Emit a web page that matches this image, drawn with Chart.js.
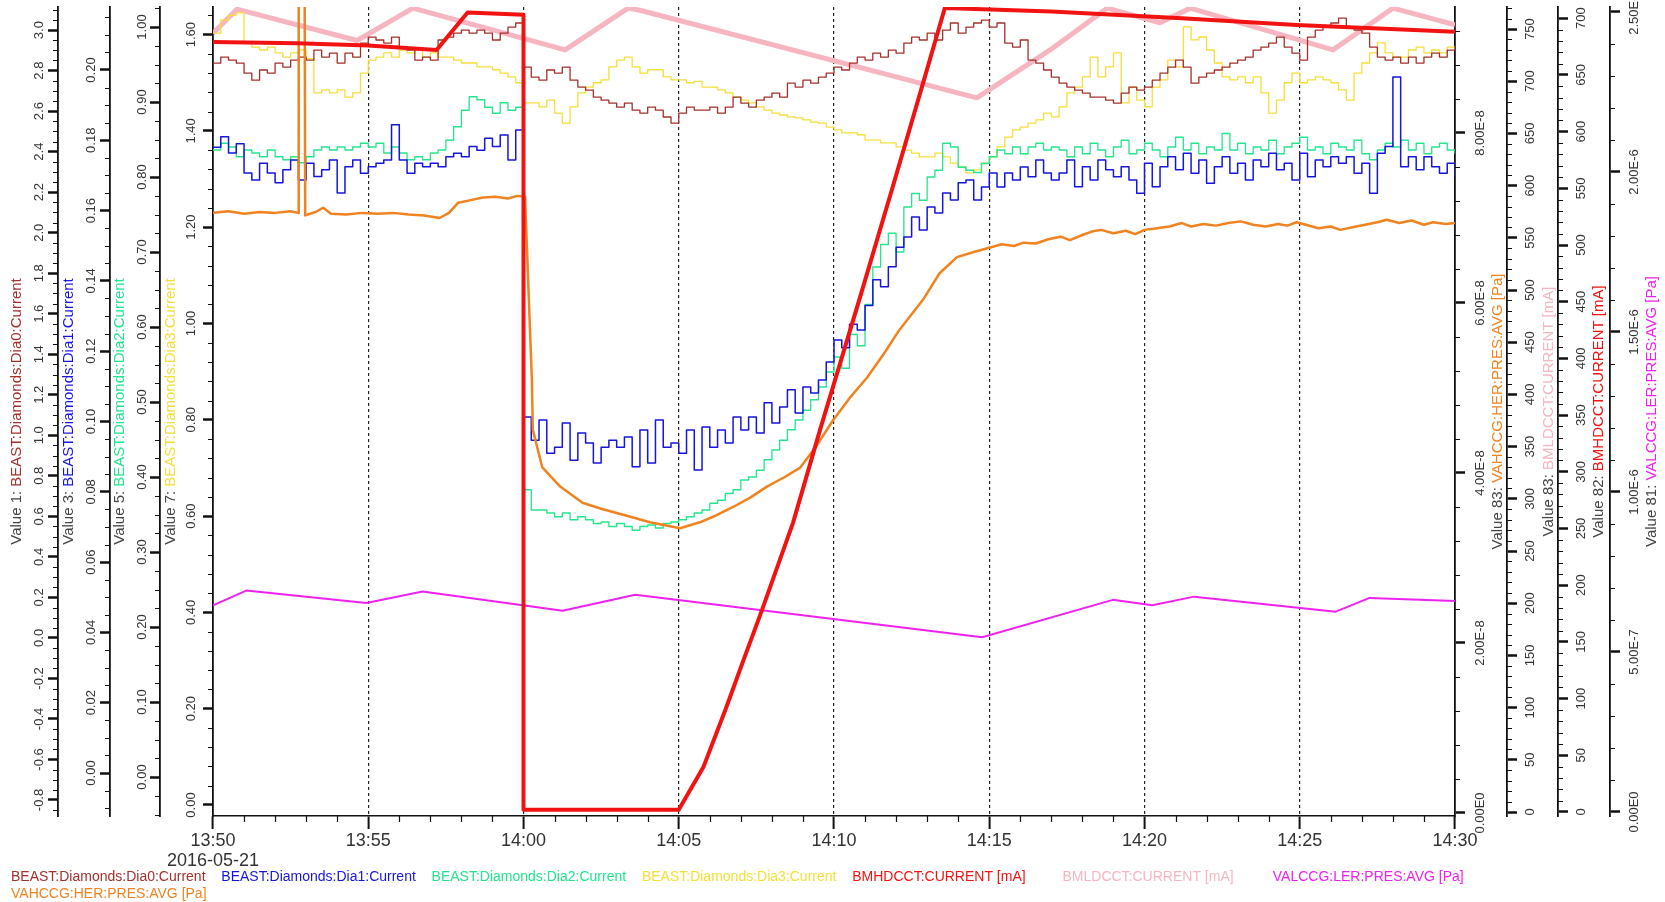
<!DOCTYPE html>
<html>
<head>
<meta charset="utf-8">
<script src="https://cdn.jsdelivr.net/npm/chart.js@4.4.1/dist/chart.umd.min.js"></script>
<style>
  html, body { margin: 0; padding: 0; background: #fff; }
  canvas { display: block; }
</style>
</head>
<body>
<canvas id="chart" width="1665" height="902"></canvas>
<script>
// x values are minutes after 13:50 (2016-05-21)
const timeLabels = ['13:50', '13:55', '14:00', '14:05', '14:10', '14:15', '14:20', '14:25', '14:30'];
const dateLabel = '2016-05-21';
const STEP = 0.25; // diamond currents: one reading every 15 s

// BEAST:Diamonds:Dia0:Current
const dia0 = [
  2.837, 2.867, 2.852, 2.837,  2.788, 2.753, 2.803, 2.788,  2.837, 2.817, 2.852, 2.867,
  2.852, 2.901, 2.867, 2.886,  2.837, 2.886, 2.867, 2.936,  2.965, 2.951, 2.936, 2.965,
  2.916, 2.901, 2.852, 2.867,  2.852, 2.951, 2.965, 2.985,  3.000, 2.985, 3.000, 2.985,
  2.951, 2.985, 3.015, 3.035,
  2.817, 2.768, 2.753, 2.803,  2.788, 2.817, 2.753, 2.719,  2.704, 2.669, 2.654, 2.640,
  2.620, 2.640, 2.605, 2.590,  2.620, 2.605, 2.571, 2.541,  2.590, 2.620, 2.605, 2.605,
  2.620, 2.590, 2.620, 2.669,  2.640, 2.620, 2.654, 2.669,  2.689, 2.669, 2.738, 2.719,
  2.753, 2.738, 2.768, 2.788,  2.817, 2.803, 2.837, 2.867,  2.852, 2.886, 2.867, 2.901,
  2.886, 2.936, 2.965, 2.951,  2.985, 2.951, 3.000, 3.035,  2.985, 3.015, 3.035, 3.049,
  3.015, 3.035, 2.936, 2.916,  2.951, 2.852, 2.837, 2.803,  2.768, 2.738, 2.719, 2.704,
  2.689, 2.669, 2.669, 2.654,  2.640, 2.689, 2.719, 2.704,  2.719, 2.753, 2.788, 2.817,
  2.852, 2.817, 2.738, 2.768,  2.788, 2.803, 2.817, 2.837,  2.852, 2.867, 2.901, 2.916,
  2.936, 2.965, 2.916, 2.886,  2.852, 2.965, 3.000, 3.015,  3.035, 3.059, 3.015, 3.000,
  2.985, 2.916, 2.867, 2.852,  2.867, 2.837, 2.867, 2.837,  2.867, 2.886, 2.867, 2.901,
  2.916
];

// BEAST:Diamonds:Dia1:Current
const dia1 = [
  0.1780, 0.1810, 0.1764, 0.1790,  0.1707, 0.1687, 0.1735, 0.1707,  0.1679, 0.1716, 0.1744, 0.1687,
  0.1735, 0.1697, 0.1716, 0.1744,  0.1650, 0.1725, 0.1744, 0.1706,  0.1725, 0.1735, 0.1744, 0.1844,
  0.1744, 0.1706, 0.1735, 0.1725,  0.1735, 0.1725, 0.1753, 0.1763,  0.1753, 0.1782, 0.1772, 0.1806,
  0.1782, 0.1815, 0.1744, 0.1829,
  0.1013, 0.0947, 0.1004, 0.0910,  0.0927, 0.0996, 0.0890, 0.0967,  0.0939, 0.0882, 0.0927, 0.0947,
  0.0927, 0.0956, 0.0871, 0.0976,  0.0882, 0.1004, 0.0927, 0.0939,  0.0910, 0.0976, 0.0862, 0.0984,
  0.0927, 0.0976, 0.0939, 0.1013,  0.0976, 0.1013, 0.0967, 0.1053,  0.0996, 0.1041, 0.1090, 0.1024,
  0.1098, 0.1081, 0.1118, 0.1169,  0.1232, 0.1210, 0.1277, 0.1260,  0.1330, 0.1403, 0.1383, 0.1440,
  0.1496, 0.1525, 0.1582, 0.1545,  0.1610, 0.1593, 0.1650, 0.1630,  0.1679, 0.1687, 0.1630, 0.1667,
  0.1707, 0.1667, 0.1707, 0.1687,  0.1724, 0.1696, 0.1744, 0.1707,  0.1687, 0.1707, 0.1744, 0.1668,
  0.1725, 0.1687, 0.1744, 0.1716,  0.1696, 0.1725, 0.1687, 0.1649,  0.1735, 0.1668, 0.1725, 0.1753,
  0.1716, 0.1763, 0.1706, 0.1744,  0.1678, 0.1725, 0.1753, 0.1706,  0.1735, 0.1687, 0.1744, 0.1725,
  0.1763, 0.1716, 0.1735, 0.1687,  0.1763, 0.1696, 0.1744, 0.1725,  0.1753, 0.1735, 0.1753, 0.1706,
  0.1735, 0.1649, 0.1763, 0.1782,  0.1980, 0.1725, 0.1753, 0.1716,  0.1753, 0.1725, 0.1706, 0.1735,
  0.1696
];

// BEAST:Diamonds:Dia2:Current
const dia2 = [
  0.836, 0.845, 0.840, 0.827,  0.836, 0.832, 0.827, 0.836,  0.827, 0.823, 0.827, 0.819,
  0.827, 0.836, 0.840, 0.836,  0.840, 0.836, 0.840, 0.845,  0.840, 0.845, 0.832, 0.840,
  0.832, 0.823, 0.827, 0.823,  0.832, 0.836, 0.849, 0.867,  0.889, 0.907, 0.903, 0.893,
  0.885, 0.899, 0.889, 0.893,
  0.383, 0.356, 0.356, 0.352,  0.347, 0.352, 0.343, 0.347,  0.343, 0.338, 0.340, 0.334,
  0.338, 0.334, 0.329, 0.334,  0.336, 0.332, 0.338, 0.340,  0.343, 0.347, 0.352, 0.356,
  0.365, 0.369, 0.378, 0.383,  0.396, 0.400, 0.409, 0.423,  0.436, 0.449, 0.463, 0.476,
  0.489, 0.503, 0.520, 0.540,  0.560, 0.545, 0.590, 0.575,  0.630, 0.680, 0.710, 0.725,
  0.700, 0.760, 0.778, 0.769,  0.800, 0.809, 0.845, 0.840,  0.813, 0.809, 0.806, 0.818,
  0.827, 0.836, 0.831, 0.840,  0.831, 0.840, 0.845, 0.836,  0.840, 0.836, 0.827, 0.840,
  0.831, 0.845, 0.836, 0.827,  0.840, 0.849, 0.831, 0.836,  0.845, 0.836, 0.827, 0.840,
  0.853, 0.836, 0.845, 0.831,  0.840, 0.836, 0.858, 0.836,  0.845, 0.831, 0.840, 0.836,
  0.849, 0.831, 0.840, 0.845,  0.853, 0.836, 0.840, 0.831,  0.845, 0.840, 0.836, 0.849,
  0.831, 0.823, 0.836, 0.845,  0.840, 0.849, 0.836, 0.845,  0.831, 0.840, 0.845, 0.836,
  0.831
];

// BEAST:Diamonds:Dia3:Current
const dia3 = [
  1.603, 1.630, 1.640, 1.645,  1.583, 1.574, 1.568, 1.574,  1.562, 1.553, 1.562, 1.568,
  1.550, 1.479, 1.485, 1.479,  1.485, 1.470, 1.479, 1.520,  1.547, 1.553, 1.562, 1.553,
  1.568, 1.562, 1.568, 1.553,  1.562, 1.553, 1.553, 1.547,  1.541, 1.541, 1.533, 1.533,
  1.527, 1.520, 1.512, 1.500,
  1.458, 1.458, 1.450, 1.464,  1.437, 1.416, 1.450, 1.479,  1.491, 1.500, 1.506, 1.533,
  1.547, 1.553, 1.533, 1.520,  1.527, 1.527, 1.512, 1.506,  1.506, 1.500, 1.503, 1.491,
  1.491, 1.485, 1.479, 1.470,  1.464, 1.458, 1.450, 1.443,  1.437, 1.433, 1.429, 1.427,
  1.423, 1.418, 1.416, 1.408,  1.402, 1.396, 1.396, 1.392,  1.381, 1.381, 1.375, 1.375,
  1.367, 1.360, 1.354, 1.346,  1.346, 1.354, 1.346, 1.333,  1.325, 1.313, 1.319, 1.333,
  1.346, 1.367, 1.387, 1.402,  1.408, 1.416, 1.423, 1.437,  1.429, 1.450, 1.479, 1.491,
  1.512, 1.553, 1.512, 1.533,  1.562, 1.458, 1.491, 1.464,  1.450, 1.491, 1.506, 1.547,
  1.533, 1.616, 1.589, 1.595,  1.568, 1.541, 1.512, 1.506,  1.512, 1.500, 1.512, 1.479,
  1.437, 1.464, 1.500, 1.520,  1.500, 1.506, 1.512, 1.506,  1.500, 1.485, 1.464, 1.520,
  1.541, 1.562, 1.583, 1.562,  1.553, 1.553, 1.568, 1.574,  1.562, 1.568, 1.562, 1.574,
  1.568
];

// BMHDCCT:CURRENT [mA]  [minute, mA]
const herCurrent = [
  [0, 679], [2.7, 678], [5, 676], [7.2, 672], [8.2, 705], [10, 703], [10, 2], [15, 2],
  [15.8, 40], [16.5, 90], [17.1, 135], [17.68, 178], [18.68, 255], [19.55, 337], [20.84, 454],
  [21.9, 552], [22.87, 643], [23.57, 709], [27, 706], [31.2, 700], [34.9, 694], [40, 688]
];

// BMLDCCT:CURRENT [mA]  [minute, mA]
const lerCurrent = [
  [0, 746], [0.77, 769], [4.64, 739], [6.44, 770], [11.34, 730], [13.37, 770], [13.75, 768],
  [24.6, 684], [26.96, 730], [28.8, 770], [30.5, 756], [31.47, 770], [36.07, 730],
  [38.0, 770], [40, 754]
];

// VAHCCG:HER:PRES:AVG [Pa]  [minute, Pa]
const herPres = [
  [0, 7.06e-8], [0.5, 7.08e-8], [1, 7.05e-8], [1.5, 7.07e-8], [2, 7.06e-8], [2.5, 7.08e-8],
  [2.74, 7.06e-8], [2.76, 9.9e-8], [2.95, 9.9e-8], [2.97, 7.03e-8], [3.3, 7.07e-8],
  [3.55, 7.12e-8], [3.8, 7.05e-8], [4.3, 7.04e-8], [4.8, 7.06e-8], [5.3, 7.05e-8],
  [5.8, 7.06e-8], [6.3, 7.04e-8], [6.8, 7.03e-8], [7.3, 7.0e-8], [7.6, 7.06e-8],
  [7.9, 7.18e-8], [8.3, 7.21e-8], [8.7, 7.24e-8], [9.1, 7.25e-8], [9.5, 7.23e-8],
  [9.8, 7.26e-8], [10.05, 7.25e-8], [10.27, 5.09e-8], [10.3, 4.51e-8], [10.6, 4.07e-8],
  [11.18, 3.84e-8], [11.9, 3.65e-8], [12.5, 3.58e-8], [13.0, 3.53e-8], [13.5, 3.48e-8],
  [14.07, 3.42e-8], [15.04, 3.35e-8], [15.68, 3.42e-8], [16.2, 3.5e-8], [16.75, 3.6e-8],
  [17.3, 3.71e-8], [17.84, 3.84e-8], [18.4, 3.95e-8], [18.9, 4.06e-8], [19.4, 4.3e-8],
  [19.97, 4.62e-8], [20.5, 4.88e-8], [21.06, 5.12e-8], [21.6, 5.4e-8], [22.1, 5.68e-8],
  [22.87, 6.04e-8], [23.4, 6.35e-8], [23.96, 6.54e-8], [24.5, 6.6e-8],
  [25.0, 6.65e-8], [25.4, 6.69e-8], [25.8, 6.67e-8], [26.1, 6.71e-8], [26.5, 6.70e-8],
  [26.9, 6.75e-8], [27.3, 6.78e-8], [27.6, 6.74e-8], [28.0, 6.80e-8], [28.3, 6.84e-8],
  [28.6, 6.86e-8], [29.0, 6.82e-8], [29.4, 6.85e-8], [29.7, 6.81e-8], [30.0, 6.86e-8],
  [30.4, 6.88e-8], [30.8, 6.90e-8], [31.2, 6.94e-8], [31.5, 6.90e-8], [31.9, 6.93e-8],
  [32.3, 6.91e-8], [32.7, 6.94e-8], [33.1, 6.96e-8], [33.5, 6.92e-8], [33.9, 6.90e-8],
  [34.3, 6.93e-8], [34.6, 6.91e-8], [34.9, 6.95e-8], [35.2, 6.92e-8], [35.6, 6.88e-8],
  [36.0, 6.90e-8], [36.3, 6.86e-8], [36.7, 6.89e-8], [37.1, 6.92e-8], [37.5, 6.95e-8],
  [37.8, 6.98e-8], [38.2, 6.94e-8], [38.6, 6.97e-8], [39.0, 6.92e-8], [39.3, 6.95e-8],
  [39.7, 6.93e-8], [40, 6.94e-8]
];

// VALCCG:LER:PRES:AVG [Pa]  [minute, Pa]
const lerPres = [
  [0, 6.46e-7], [1.07, 6.92e-7], [4.94, 6.53e-7], [6.75, 6.89e-7], [11.26, 6.29e-7],
  [13.6, 6.79e-7], [24.77, 5.46e-7], [28.98, 6.63e-7], [30.25, 6.46e-7], [31.6, 6.73e-7],
  [36.16, 6.26e-7], [37.25, 6.69e-7], [40, 6.59e-7]
];

const COLORS = {
  dia0: '#a4302c', dia1: '#1515dd', dia2: '#23e58c', dia3: '#f3e03a',
  herCur: '#f11212', lerCur: '#f6b5c0', lerPres: '#ee22ee', herPres: '#f0831f'
};
const FONT = '"Liberation Sans", Arial, Helvetica, sans-serif';
Chart.defaults.font.family = FONT;

const sci = v => (Math.abs(v) < 1e-15 ? '0.00E0' : v.toExponential(2).toUpperCase().replace('+', ''));

// axis layout / styling (left axes listed from outside in, right axes from inside out)
const axisDefs = {
  yDia0:    { side: 'left',  min: -0.879, max: 3.114, major: 0.2, minor: 0.05, fmt: v => v.toFixed(1), width: 58, weight: 4, labelGap: 19, titleGap: 41, title: 'Value 1: ', name: 'BEAST:Diamonds:Dia0:Current', color: COLORS.dia0 },
  yDia1:    { side: 'left',  min: -0.01223, max: 0.21792, major: 0.02, minor: 0.005, fmt: v => v.toFixed(2), width: 52, weight: 3, labelGap: 19, titleGap: 41, title: 'Value 3: ', name: 'BEAST:Diamonds:Dia1:Current', color: COLORS.dia1 },
  yDia2:    { side: 'left',  min: -0.052, max: 1.0267, major: 0.1, minor: 0.025, fmt: v => v.toFixed(2), width: 50, weight: 2, labelGap: 18, titleGap: 40, title: 'Value 5: ', name: 'BEAST:Diamonds:Dia2:Current', color: COLORS.dia2 },
  yDia3:    { side: 'left',  min: -0.02285, max: 1.6573, major: 0.2, minor: 0.04, fmt: v => v.toFixed(2), width: 53, weight: 1, labelGap: 22, titleGap: 42, title: 'Value 7: ', name: 'BEAST:Diamonds:Dia3:Current', color: COLORS.dia3 },
  yHerPres: { side: 'right', min: -3.53e-10, max: 9.482e-8, major: 2e-8, minor: 4e-9, fmt: sci, width: 52, weight: 1, labelGap: 25, titleGap: 43, title: 'Value 83: ', name: 'VAHCCG:HER:PRES:AVG [Pa]', color: COLORS.herPres },
  yLerCur:  { side: 'right', min: -3.83, max: 771.1, major: 50, minor: 10, fmt: v => String(Math.round(v)), width: 51, weight: 2, labelGap: 23, titleGap: 42, title: 'Value 83: ', name: 'BMLDCCT:CURRENT [mA]', color: COLORS.lerCur },
  yHerCur:  { side: 'right', min: -3.53, max: 709.9, major: 50, minor: 10, fmt: v => String(Math.round(v)), width: 52, weight: 3, labelGap: 23, titleGap: 41, title: 'Value 82: ', name: 'BMHDCCT:CURRENT [mA]', color: COLORS.herCur },
  yLerPres: { side: 'right', min: -1.25e-8, max: 2.5156e-6, major: 5e-7, minor: 1e-7, fmt: sci, width: 55, weight: 4, labelGap: 24, titleGap: 42, title: 'Value 81: ', name: 'VALCCG:LER:PRES:AVG [Pa]', color: COLORS.lerPres }
};

const legendRows = [
  [['BEAST:Diamonds:Dia0:Current', COLORS.dia0], ['BEAST:Diamonds:Dia1:Current', COLORS.dia1],
   ['BEAST:Diamonds:Dia2:Current', COLORS.dia2], ['BEAST:Diamonds:Dia3:Current', COLORS.dia3],
   ['BMHDCCT:CURRENT [mA]', COLORS.herCur], ['BMLDCCT:CURRENT [mA]', COLORS.lerCur],
   ['VALCCG:LER:PRES:AVG [Pa]', COLORS.lerPres]],
  [['VAHCCG:HER:PRES:AVG [Pa]', COLORS.herPres]]
];

function yScale(d) {
  return {
    type: 'linear', position: d.side, min: d.min, max: d.max, weight: d.weight,
    afterFit: s => { s.width = d.width; },
    ticks: { display: false, stepSize: d.major, includeBounds: false },
    grid: { drawOnChartArea: false, drawTicks: true, tickLength: 10, tickWidth: 2.5, tickColor: '#111' },
    border: { display: true, color: '#111', width: 1.8 }
  };
}

const scales = {
  x: {
    type: 'linear', position: 'bottom', min: 0, max: 40,
    afterFit: s => { s.height = 86; },
    ticks: {
      stepSize: 5, autoSkip: false, maxRotation: 0, minRotation: 0, padding: 2, color: '#333',
      font: { size: 18, lineHeight: 1.1 },
      callback: v => (v === 0 ? [timeLabels[0], dateLabel] : timeLabels[Math.round(v / 5)])
    },
    grid: {
      drawOnChartArea: true, lineWidth: 1.2,
      color: c => (c.tick && (c.tick.value === 0 || c.tick.value === 40) ? 'rgba(0,0,0,0)' : '#222'),
      tickLength: 13, tickWidth: 2, tickColor: '#111', tickBorderDash: []
    },
    border: { display: true, color: '#111', width: 1.5, dash: [3, 3] }
  }
};
for (const id of Object.keys(axisDefs)) scales[id] = yScale(axisDefs[id]);

const stepPts = vals => vals.map((v, i) => ({ x: i * STEP, y: v }));
const pairPts = arr => arr.map(([x, y]) => ({ x, y }));

const line = (label, data, axis, color, width, stepped) => ({
  label, data, yAxisID: axis, borderColor: color, backgroundColor: color,
  borderWidth: width, stepped: !!stepped, pointRadius: 0, pointHitRadius: 0,
  fill: false, tension: 0, borderJoinStyle: 'round'
});

// first dataset is drawn on top
const datasets = [
  line('BMHDCCT:CURRENT [mA]', pairPts(herCurrent), 'yHerCur', COLORS.herCur, 4),
  line('VAHCCG:HER:PRES:AVG [Pa]', pairPts(herPres), 'yHerPres', COLORS.herPres, 2.5),
  line('VALCCG:LER:PRES:AVG [Pa]', pairPts(lerPres), 'yLerPres', COLORS.lerPres, 2),
  line('BEAST:Diamonds:Dia1:Current', stepPts(dia1), 'yDia1', COLORS.dia1, 1.5, true),
  line('BEAST:Diamonds:Dia2:Current', stepPts(dia2), 'yDia2', COLORS.dia2, 1.3, true),
  line('BEAST:Diamonds:Dia0:Current', stepPts(dia0), 'yDia0', COLORS.dia0, 1.3, true),
  line('BEAST:Diamonds:Dia3:Current', stepPts(dia3), 'yDia3', COLORS.dia3, 1.3, true),
  line('BMLDCCT:CURRENT [mA]', pairPts(lerCurrent), 'yLerCur', COLORS.lerCur, 5)
];

// minor ticks, rotated tick labels, two-colour axis titles and the text legend
const axisDecor = {
  id: 'axisDecor',
  afterDraw(chart) {
    const ctx = chart.ctx;
    const area = chart.chartArea;
    const midY = (area.top + area.bottom) / 2;
    ctx.save();

    // x minor ticks every minute
    const xs = chart.scales.x;
    ctx.strokeStyle = '#111';
    ctx.lineWidth = 1.2;
    ctx.beginPath();
    for (let m = 1; m < 40; m++) {
      if (m % 5 === 0) continue;
      const px = Math.round(xs.getPixelForValue(m)) + 0.5;
      ctx.moveTo(px, area.bottom);
      ctx.lineTo(px, area.bottom + 6);
    }
    ctx.stroke();

    for (const id of Object.keys(axisDefs)) {
      const d = axisDefs[id];
      const s = chart.scales[id];
      const left = d.side === 'left';
      const spine = left ? s.right : s.left;
      const dir = left ? -1 : 1;

      ctx.strokeStyle = '#111';
      ctx.lineWidth = 1.2;
      ctx.beginPath();
      const ratio = Math.round(d.major / d.minor);
      for (let k = Math.ceil(d.min / d.minor); k * d.minor <= d.max; k++) {
        if (k % ratio === 0) continue;
        const py = Math.round(s.getPixelForValue(k * d.minor)) + 0.5;
        ctx.moveTo(spine, py);
        ctx.lineTo(spine + dir * 5, py);
      }
      ctx.stroke();

      ctx.font = '13px ' + FONT;
      ctx.fillStyle = '#333';
      ctx.textAlign = 'center';
      ctx.textBaseline = 'middle';
      for (const t of s.ticks) {
        const py = s.getPixelForValue(t.value);
        ctx.save();
        ctx.translate(spine + dir * d.labelGap, py);
        ctx.rotate(-Math.PI / 2);
        ctx.fillText(d.fmt(t.value), 0, 0);
        ctx.restore();
      }

      ctx.font = '15px ' + FONT;
      const w1 = ctx.measureText(d.title).width;
      const w2 = ctx.measureText(d.name).width;
      ctx.save();
      ctx.translate(spine + dir * d.titleGap, midY);
      ctx.rotate(-Math.PI / 2);
      ctx.textAlign = 'left';
      ctx.fillStyle = '#444';
      ctx.fillText(d.title, -(w1 + w2) / 2, 0);
      ctx.fillStyle = d.color;
      ctx.fillText(d.name, -(w1 + w2) / 2 + w1, 0);
      ctx.restore();
    }

    ctx.font = '14px ' + FONT;
    ctx.textAlign = 'left';
    ctx.textBaseline = 'middle';
    legendRows.forEach((row, r) => {
      row.forEach(([text, color], i) => {
        ctx.fillStyle = color;
        ctx.fillText(text, 11 + i * 210.3, 877 + r * 17);
      });
    });
    ctx.restore();
  }
};

new Chart(document.getElementById('chart'), {
  type: 'line',
  data: { datasets },
  options: {
    responsive: false,
    devicePixelRatio: 1,
    animation: false,
    events: [],
    layout: { padding: { top: 7, left: 0, right: 0, bottom: 0 } },
    plugins: { legend: { display: false }, tooltip: { enabled: false } },
    scales
  },
  plugins: [axisDecor]
});
</script>
</body>
</html>
